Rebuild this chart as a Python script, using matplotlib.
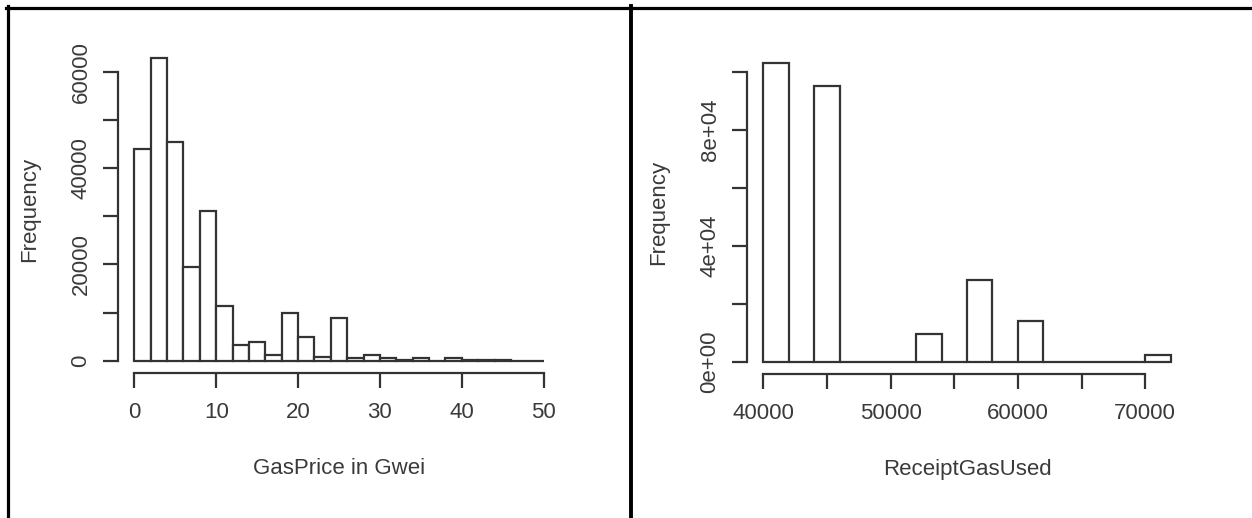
import numpy as np
import matplotlib
matplotlib.use("Agg")
import matplotlib.pyplot as plt
from matplotlib.lines import Line2D

plt.rcParams['font.family'] = ['Liberation Sans', 'DejaVu Sans']

# histogram data
gas_price_edges = [0, 2, 4, 6, 8, 10, 12, 14, 16, 18, 20, 22, 24, 26, 28, 30,
                   32, 34, 36, 38, 40, 42, 44, 46, 48, 50]
gas_price_counts = [44000, 62800, 45300, 19400, 31000, 11400, 3300, 3900, 1300,
                    9900, 5000, 900, 8800, 550, 1250, 550, 200, 550, 0, 550,
                    200, 200, 200, 0, 0]
gas_price_xticks = [0, 10, 20, 30, 40, 50]
gas_price_yticks = [0, 10000, 20000, 30000, 40000, 50000, 60000]
gas_price_ylabels = ['0', '', '20000', '', '40000', '', '60000']

gas_used_edges = [40000, 42000, 44000, 46000, 48000, 50000, 52000, 54000, 56000,
                  58000, 60000, 62000, 64000, 66000, 68000, 70000, 72000]
gas_used_counts = [103000, 0, 95000, 0, 0, 0, 9500, 0, 28200, 0, 14300, 0, 0, 0,
                   0, 2300]
gas_used_xticks = [40000, 45000, 50000, 55000, 60000, 65000, 70000]
gas_used_xlabels = ['40000', '', '50000', '', '60000', '', '70000']
gas_used_yticks = [0, 20000, 40000, 60000, 80000, 100000]
gas_used_ylabels = ['0e+00', '', '4e+04', '', '8e+04', '']

W, H = 1252, 518
INK = '#333333'
TXT = '#3a3a3a'
FS = 16

fig = plt.figure(figsize=(W / 100, H / 100), dpi=100)


def px_axes(x0, x1, y_top, y_bot):
    return fig.add_axes([x0 / W, 1 - y_bot / H, (x1 - x0) / W, (y_bot - y_top) / H])


def r_hist(ax, edges, counts, xticks, xlabels, yticks, ylabels, xlabel):
    edges = np.asarray(edges, dtype=float)
    ax.bar(edges[:-1], counts, width=np.diff(edges), align='edge',
           facecolor='white', edgecolor=INK, linewidth=1.6)
    # R style: 4% padding on both axes
    span = edges[-1] - edges[0]
    ax.set_xlim(edges[0] - 0.04 * span, edges[-1] + 0.04 * span)
    top = max(counts)
    ax.set_ylim(-0.04 * top, 1.04 * top)
    for s in ['top', 'right']:
        ax.spines[s].set_visible(False)
    for s in ['left', 'bottom']:
        ax.spines[s].set_color(INK)
        ax.spines[s].set_linewidth(1.6)
    ax.spines['bottom'].set_bounds(xticks[0], xticks[-1])
    ax.spines['left'].set_bounds(yticks[0], yticks[-1])
    ax.set_xticks(xticks)
    ax.set_xticklabels(xlabels)
    ax.set_yticks(yticks)
    ax.set_yticklabels(ylabels, rotation=90, va='center')
    ax.tick_params(length=11, width=1.6, color=INK, labelcolor=TXT,
                   labelsize=FS)
    ax.tick_params(axis='x', pad=10)
    ax.tick_params(axis='y', pad=8)
    ax.set_xlabel(xlabel, fontsize=FS, color=TXT, labelpad=25)
    ax.set_ylabel('Frequency', fontsize=FS, color=TXT, labelpad=22)


ax1 = px_axes(118, 560, 46, 373)
r_hist(ax1, gas_price_edges, gas_price_counts, gas_price_xticks,
       [str(t) for t in gas_price_xticks], gas_price_yticks, gas_price_ylabels,
       'GasPrice in Gwei')

ax2 = px_axes(747, 1187, 51, 374)
r_hist(ax2, gas_used_edges, gas_used_counts, gas_used_xticks, gas_used_xlabels,
       gas_used_yticks, gas_used_ylabels, 'ReceiptGasUsed')

# table-like frame around the two panels
lw = 2.3
fig.add_artist(Line2D([6 / W, 1], [1 - 7.5 / H] * 2, color='black', lw=lw))
fig.add_artist(Line2D([7.5 / W] * 2, [0, 1 - 6 / H], color='black', lw=lw))
fig.add_artist(Line2D([631 / W] * 2, [0, 1 - 6 / H], color='black', lw=2.8))

fig.savefig('out.png', dpi=100)
